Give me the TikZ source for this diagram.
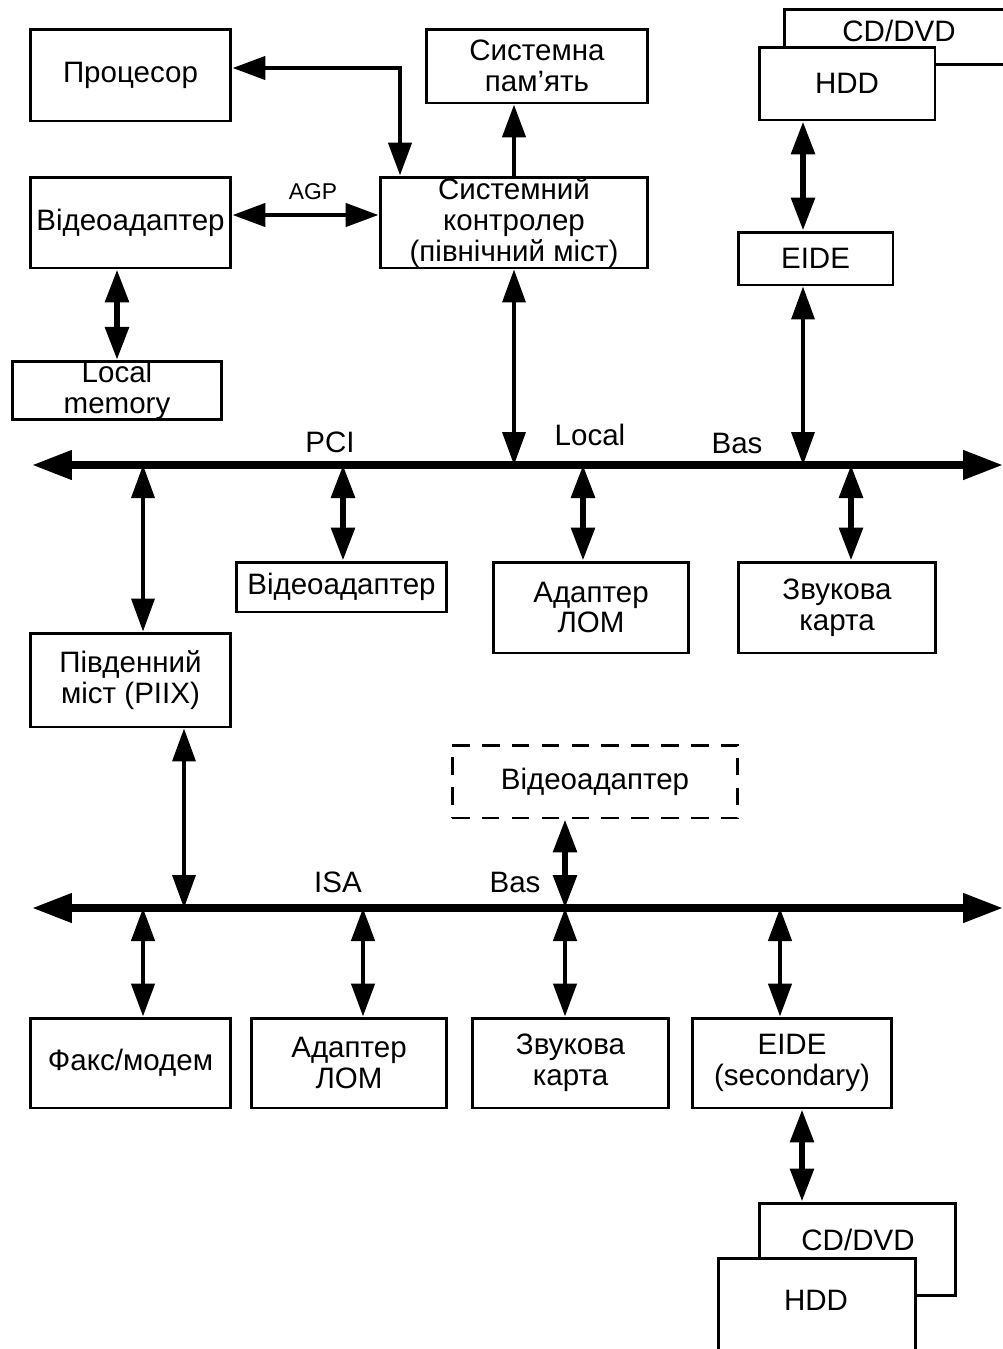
\documentclass[tikz,border=0pt]{standalone}
\usepackage{fontspec}
\setmainfont{Liberation Sans}
\usetikzlibrary{arrows.meta}

\tikzset{
	blk/.style={draw, line width=1.7pt, fill=white, inner sep=0pt, align=center, font=\fontsize{16.8}{17.5}\selectfont},
	lbl/.style={inner sep=0pt, font=\fontsize{16.8}{17.5}\selectfont},
	link/.style={line width=2.6pt, {Triangle[length=0.66cm, width=0.46cm]}-{Triangle[length=0.66cm, width=0.46cm]}},
	fatlink/.style={link, line width=3.4pt},
	thinlink/.style={link, line width=2pt},
	bus/.style={line width=4.3pt, {Triangle[length=0.8cm, width=0.56cm]}-{Triangle[length=0.8cm, width=0.56cm]}},
}

\begin{document}
\begin{tikzpicture}[x=0.02cm, y=-0.02cm]
		%%%%% START %%%%%
		\useasboundingbox (0, 0) rectangle (1003, 1349);
		
		\node[blk, minimum width=4.02cm, minimum height=1.84cm] (proc) at (130.5, 75) {Процесор};
		\node[blk, minimum width=4.44cm, minimum height=1.48cm] (mem) at (537, 66) {Системна\\пам’ять};
		\node[blk, minimum width=4.02cm, minimum height=1.82cm] (vidagp) at (130.5, 222.5) {Відеоадаптер};
		\node[blk, minimum width=5.36cm, minimum height=1.82cm] (north) at (514, 222.5) {Системний\\контролер\\(північний міст)};
		\node[blk, minimum width=4.2cm, minimum height=1.14cm] (lmem) at (117, 390.5) {Local\\memory};
		
		\node[blk, minimum width=4.94cm, minimum height=1.1cm, anchor=north west] (cd1) at (783, 8) {};
		\node[lbl] (cd1txt) at (899, 31) {CD/DVD};
		\node[blk, minimum width=3.52cm, minimum height=1.46cm] (hdd1) at (847, 83.5) {HDD};
		\node[blk, minimum width=3.1cm, minimum height=1.06cm] (eide1) at (815.5, 258.5) {EIDE};
		
		% PCI
		\coordinate (pciL) at (32, 465);
		\coordinate (pciR) at (1003, 465);
		\draw[bus] (pciL) -- (pciR);
		\node[lbl] (pcilbl) at (330, 442) {PCI};
		\node[lbl] (locallbl) at (590, 435) {Local};
		\node[lbl] (baslbl) at (737, 443) {Bas};
		
		\node[blk, minimum width=4.22cm, minimum height=1cm] (vidpci) at (341.5, 587) {Відеоадаптер};
		\node[blk, minimum width=3.92cm, minimum height=1.82cm] (lan1) at (591, 607.5) {Адаптер\\ЛОМ};
		\node[blk, minimum width=3.96cm, minimum height=1.82cm] (snd1) at (837, 607.5) {Звукова\\карта};
		\node[blk, minimum width=4.02cm, minimum height=1.88cm] (south) at (130.5, 680) {Південний\\міст (PIIX)};
		\node[blk, dash pattern=on 10pt off 7pt, minimum width=5.72cm, minimum height=1.46cm] (vidisa) at (595, 781.5) {Відеоадаптер};
		
		% ISA
		\coordinate (isaL) at (32, 908);
		\coordinate (isaR) at (1003, 908);
		\draw[bus] (isaL) -- (isaR);
		\node[lbl] (isalbl) at (338, 882) {ISA};
		\node[lbl] (baslbl2) at (515, 882) {Bas};
		
		\node[blk, minimum width=4.02cm, minimum height=1.8cm] (fax) at (130.5, 1063) {Факс/модем};
		\node[blk, minimum width=3.92cm, minimum height=1.8cm] (lan2) at (349, 1063) {Адаптер\\ЛОМ};
		\node[blk, minimum width=3.94cm, minimum height=1.8cm] (snd2) at (570.5, 1063) {Звукова\\карта};
		\node[blk, minimum width=4cm, minimum height=1.8cm] (eide2) at (792, 1063) {EIDE\\(secondary)};
		
		\node[blk, minimum width=3.94cm, minimum height=1.84cm] (cd2) at (857.5, 1249) {};
		\node[lbl] (cd2txt) at (858, 1240) {CD/DVD};
		\node[blk, minimum width=3.94cm, minimum height=2.06cm, anchor=north west] (hdd2) at (717, 1257) {};
		\node[lbl] (hdd2txt) at (816, 1300) {HDD};
		
		% top links
		\coordinate (pbend) at (400, 68);
		\draw[link, line join=miter] (proc.east |- pbend) -- (pbend) -- (pbend |- north.north);
		\coordinate (agp) at (313, 215);
		\draw[link] (vidagp.east |- agp) -- (north.west |- agp);
		\node[lbl, font=\fontsize{13}{14}\selectfont] (agplbl) at (313, 192) {AGP};
		\draw[line width=2.6pt, -{Triangle[length=0.66cm, width=0.46cm]}] (north.north) -- (north.north |- mem.south);
		\draw[fatlink] (vidagp.south -| lmem.north) -- (lmem.north);
		\coordinate (e1x) at (803, 0);
		\draw[fatlink] (hdd1.south -| e1x) -- (eide1.north -| e1x);
		\draw[thinlink] (eide1.south -| e1x) -- (e1x |- pciL);
		\draw[thinlink] (north.south) -- (north.south |- pciL);
		
		% PCI taps
		\coordinate (tap) at (143, 465);
		\draw[thinlink] (tap) -- (tap |- south.north);
		\foreach \x/\n in {343/vidpci, 583/lan1, 851/snd1}{
			\coordinate (tap) at (\x, 465);
			\draw[fatlink] (tap) -- (tap |- \n.north);
		}
		
		% ISA taps
		\coordinate (stap) at (184, 908);
		\draw[thinlink] (stap |- south.south) -- (stap);
		\coordinate (vtap) at (565, 908);
		\draw[fatlink] (vtap |- vidisa.south) -- (vtap);
		\foreach \x/\n in {143/fax, 363/lan2, 565/snd2, 780/eide2}{
			\coordinate (tap) at (\x, 908);
			\draw[link] (tap) -- (tap |- \n.north);
		}
		\coordinate (e2x) at (802, 0);
		\draw[fatlink] (eide2.south -| e2x) -- (cd2.north -| e2x);
		%%%%% END %%%%%
\end{tikzpicture}
\end{document}
